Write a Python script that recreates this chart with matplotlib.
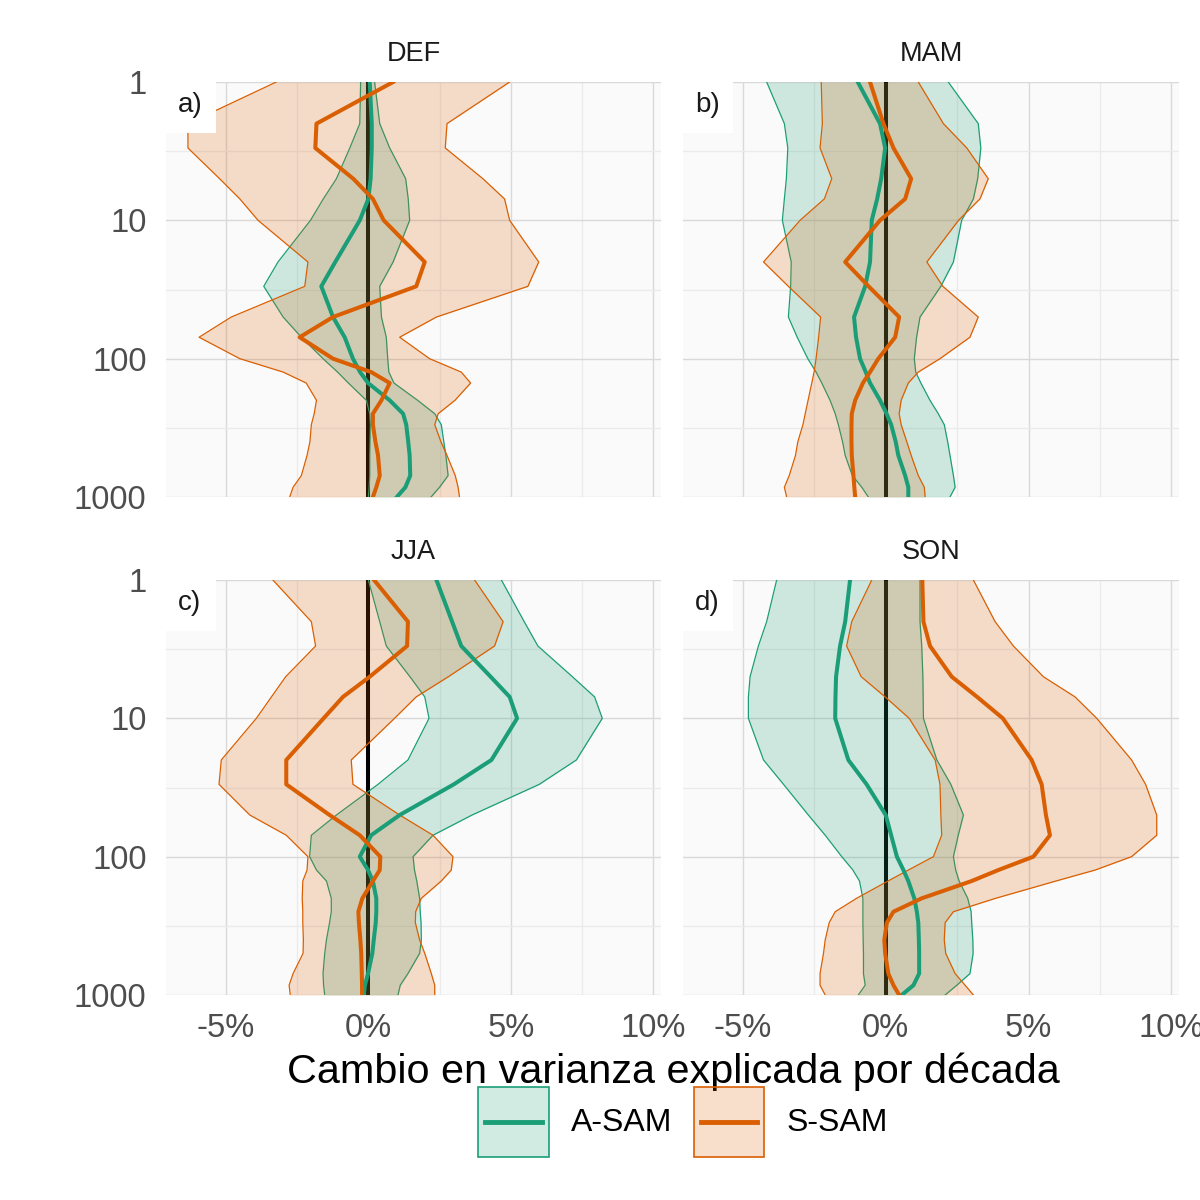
import matplotlib
matplotlib.use("Agg")
import matplotlib.pyplot as plt
from matplotlib.colors import to_rgba
from matplotlib.legend_handler import HandlerBase
from matplotlib.lines import Line2D
from matplotlib.patches import Patch, Rectangle
from matplotlib.ticker import NullFormatter

plt.rcParams["font.family"] = ["Liberation Sans", "DejaVu Sans"]

# pressure levels (hPa)
lev = [1, 2, 3, 5, 7, 10, 20, 30, 50, 70, 100, 125, 150, 200, 250, 300, 400, 500, 700, 850, 1000]

# change in explained variance per decade (%), mean and band limits
def_a_mean = [0.05, 0.12, 0.12, 0.08, 0.0, -0.30, -1.16, -1.65, -1.24, -0.83, -0.54, -0.29, -0.01, 0.75, 1.22, 1.33, 1.40, 1.45, 1.47, 1.30, 1.00]
def_a_lo = [-0.27, -0.30, -0.65, -1.12, -1.58, -2.03, -3.17, -3.67, -2.99, -2.35, -1.59, -1.08, -0.70, -0.07, 0.05, 0.07, 0.06, 0.05, 0.05, 0.03, 0.00]
def_a_hi = [0.22, 0.40, 0.75, 1.31, 1.40, 1.45, 0.87, 0.40, 0.46, 0.63, 0.68, 0.72, 0.90, 1.73, 2.33, 2.56, 2.65, 2.72, 2.80, 2.50, 2.20]
def_s_mean = [0.87, -1.82, -1.86, -0.53, 0.16, 0.54, 1.98, 1.68, -1.24, -2.41, -1.24, 0.10, 0.75, 0.46, 0.16, 0.16, 0.25, 0.34, 0.40, 0.28, 0.16]
def_s_lo = [-3.23, -6.33, -6.33, -5.22, -4.51, -3.87, -2.12, -2.23, -4.81, -5.94, -4.51, -2.99, -2.18, -1.82, -1.90, -2.00, -2.05, -2.15, -2.35, -2.64, -2.76]
def_s_hi = [4.96, 2.76, 2.70, 4.02, 4.78, 4.96, 5.98, 5.60, 2.39, 1.10, 2.15, 3.26, 3.59, 3.04, 2.45, 2.33, 2.55, 2.76, 3.05, 3.15, 3.20]

mam_a_mean = [-0.98, -0.20, -0.02, -0.16, -0.30, -0.49, -0.55, -0.72, -1.11, -1.04, -0.90, -0.70, -0.55, -0.20, 0.03, 0.19, 0.35, 0.44, 0.68, 0.79, 0.79]
mam_a_lo = [-4.17, -3.55, -3.43, -3.48, -3.55, -3.62, -3.31, -3.33, -3.41, -3.10, -2.73, -2.44, -2.24, -1.95, -1.77, -1.66, -1.51, -1.42, -1.17, -0.84, -0.61]
mam_a_hi = [2.19, 3.24, 3.33, 3.22, 3.07, 2.66, 2.37, 1.93, 1.20, 1.08, 1.00, 1.05, 1.23, 1.55, 1.84, 2.05, 2.17, 2.25, 2.37, 2.43, 2.25]
mam_s_mean = [-0.55, -0.08, 0.27, 0.89, 0.68, -0.20, -1.42, -0.60, 0.47, 0.33, -0.26, -0.55, -0.80, -1.07, -1.19, -1.20, -1.20, -1.19, -1.13, -1.10, -1.07]
mam_s_lo = [-2.26, -2.22, -2.30, -1.89, -2.15, -3.00, -4.28, -3.41, -2.28, -2.35, -2.44, -2.51, -2.59, -2.72, -2.82, -2.90, -3.08, -3.16, -3.38, -3.55, -3.47]
mam_s_hi = [1.14, 2.02, 2.84, 3.59, 3.30, 2.55, 1.44, 2.00, 3.24, 2.95, 1.90, 1.14, 0.79, 0.54, 0.47, 0.54, 0.74, 0.89, 1.14, 1.35, 1.38]

jja_a_mean = [2.39, 2.94, 3.26, 4.29, 4.96, 5.22, 4.32, 3.00, 1.10, 0.10, -0.30, -0.01, 0.16, 0.28, 0.28, 0.26, 0.19, 0.14, -0.01, -0.12, -0.16]
jja_a_lo = [0.00, 0.40, 0.63, 1.46, 1.98, 2.13, 1.39, 0.34, -1.12, -2.00, -2.06, -1.82, -1.47, -1.30, -1.30, -1.36, -1.47, -1.53, -1.59, -1.57, -1.53]
jja_a_hi = [4.67, 5.47, 5.95, 7.16, 7.94, 8.21, 7.30, 6.00, 3.64, 2.27, 1.57, 1.62, 1.70, 1.80, 1.82, 1.85, 1.86, 1.80, 1.39, 1.12, 1.04]
jja_s_mean = [0.20, 1.39, 1.36, 0.05, -0.89, -1.57, -2.88, -2.88, -1.36, -0.30, 0.42, 0.40, 0.16, -0.21, -0.35, -0.33, -0.28, -0.25, -0.23, -0.22, -0.22]
jja_s_lo = [-3.35, -2.00, -1.85, -2.90, -3.40, -3.93, -5.16, -5.24, -4.16, -2.88, -2.12, -2.15, -2.30, -2.32, -2.30, -2.30, -2.28, -2.29, -2.64, -2.78, -2.74]
jja_s_hi = [3.73, 4.73, 4.43, 2.81, 1.68, 0.92, -0.60, -0.54, 1.10, 2.27, 2.97, 2.91, 2.56, 1.86, 1.66, 1.65, 1.80, 1.98, 2.21, 2.33, 2.33]

son_a_mean = [-1.25, -1.42, -1.60, -1.74, -1.76, -1.77, -1.31, -0.67, 0.00, 0.19, 0.39, 0.62, 0.79, 1.00, 1.09, 1.14, 1.16, 1.17, 1.17, 0.97, 0.56]
son_a_lo = [-3.82, -4.17, -4.46, -4.75, -4.81, -4.81, -4.28, -3.58, -2.71, -2.12, -1.54, -1.15, -0.92, -0.80, -0.80, -0.80, -0.79, -0.78, -0.78, -0.72, -0.96]
son_a_hi = [1.20, 1.20, 1.26, 1.30, 1.31, 1.32, 1.79, 2.28, 2.72, 2.54, 2.37, 2.45, 2.57, 2.87, 2.99, 3.01, 3.05, 3.06, 2.95, 2.49, 2.08]
son_s_mean = [1.28, 1.32, 1.55, 2.31, 3.20, 4.10, 5.11, 5.46, 5.61, 5.75, 5.17, 3.94, 3.01, 1.26, 0.27, 0.04, -0.05, -0.02, 0.09, 0.27, 0.47]
son_s_lo = [-0.49, -1.19, -1.37, -0.86, -0.02, 0.82, 1.73, 1.90, 1.93, 1.96, 1.67, 0.79, 0.08, -1.02, -1.77, -1.98, -2.12, -2.18, -2.30, -2.30, -2.12]
son_s_hi = [3.07, 3.83, 4.47, 5.52, 6.63, 7.39, 8.61, 9.10, 9.49, 9.49, 8.61, 7.33, 5.96, 3.85, 2.37, 2.08, 2.05, 2.10, 2.43, 2.78, 3.07]

seasons = ["DEF", "MAM", "JJA", "SON"]
tags = ["a)", "b)", "c)", "d)"]
series = ["A-SAM", "S-SAM"]
x_ticks = [-5, 0, 5, 10]
x_ticklabels = ["-5%", "0%", "5%", "10%"]
y_ticks = [1, 10, 100, 1000]

GREEN = "#1b9e77"
ORANGE = "#d95f02"
colors = [GREEN, ORANGE]

data = {
    "DEF": [(def_a_mean, def_a_lo, def_a_hi), (def_s_mean, def_s_lo, def_s_hi)],
    "MAM": [(mam_a_mean, mam_a_lo, mam_a_hi), (mam_s_mean, mam_s_lo, mam_s_hi)],
    "JJA": [(jja_a_mean, jja_a_lo, jja_a_hi), (jja_s_mean, jja_s_lo, jja_s_hi)],
    "SON": [(son_a_mean, son_a_lo, son_a_hi), (son_s_mean, son_s_lo, son_s_hi)],
}


class BoxKey(HandlerBase):
    """ggplot-like legend key: filled box with the line across its middle."""

    def create_artists(self, legend, orig_handle, xdescent, ydescent,
                       width, height, fontsize, trans):
        ec = orig_handle.get_edgecolor()
        rect = Rectangle((-xdescent, -ydescent), width, height,
                         facecolor=orig_handle.get_facecolor(), edgecolor=ec,
                         lw=1.2, transform=trans)
        y = -ydescent + height / 2
        line = Line2D([-xdescent + 0.1 * width, -xdescent + 0.9 * width], [y, y],
                      color=ec, lw=3.5, transform=trans)
        return [rect, line]


W = H = 1200.0
fig = plt.figure(figsize=(12, 12), dpi=100)

# panel boxes in pixels: left, top, right, bottom
boxes = [(166, 82, 661, 497), (683, 82, 1179, 497),
         (166, 580, 661, 995), (683, 580, 1179, 995)]

for i, season in enumerate(seasons):
    l, t, r, b = boxes[i]
    ax = fig.add_axes([l / W, 1 - b / H, (r - l) / W, (b - t) / H])
    ax.set_facecolor("#fafafa")
    for s in ax.spines.values():
        s.set_visible(False)

    ax.set_yscale("log")
    ax.set_ylim(1000, 1)
    ax.set_xlim(-7.1, 10.27)
    ax.set_xticks(x_ticks)
    ax.set_xticks([-2.5, 2.5, 7.5], minor=True)
    ax.set_yticks(y_ticks)
    ax.set_yticks([10 ** 0.5, 10 ** 1.5, 10 ** 2.5], minor=True)
    ax.yaxis.set_minor_formatter(NullFormatter())
    ax.grid(which="major", color="#d9d9d9", lw=1.0)
    ax.grid(which="minor", color="#ebebeb", lw=1.0)
    ax.set_axisbelow(True)
    ax.tick_params(which="both", length=0, labelsize=23.5, labelcolor="#4d4d4d")
    ax.tick_params(axis="y", pad=14)
    ax.tick_params(axis="x", pad=13)

    if i % 2 == 0:
        ax.set_yticklabels([str(v) for v in y_ticks])
    else:
        ax.set_yticklabels([])
    if i >= 2:
        ax.set_xticklabels(x_ticklabels)
    else:
        ax.set_xticklabels([])

    ax.axvline(0, color="black", lw=2.9, zorder=1.5)

    for k, (mean, lo, hi) in enumerate(data[season]):
        c = colors[k]
        z = 2 + k * 0.2
        ax.fill_betweenx(lev, lo, hi, color=c, alpha=0.2, lw=0, zorder=z)
        ax.plot(lo, lev, color=c, lw=0.9, zorder=z + 0.1)
        ax.plot(hi, lev, color=c, lw=0.9, zorder=z + 0.1)
    for k, (mean, lo, hi) in enumerate(data[season]):
        ax.plot(mean, lev, color=colors[k], lw=2.9, zorder=3 + k * 0.1,
                solid_joinstyle="round")

    # panel tag in white box
    ax.add_patch(Rectangle((0, 1 - 51 / 415), 50 / 495, 51 / 415,
                           transform=ax.transAxes, facecolor="white",
                           edgecolor="none", zorder=4))
    ax.text(12 / 495, 1 - 23 / 415, tags[i], transform=ax.transAxes,
            fontsize=20, ha="left", va="center", color="#1a1a1a", zorder=5)

    # facet strip
    ax.text(0.5, 1 + 28 / 415, season, transform=ax.transAxes,
            fontsize=19.5, ha="center", va="center", color="#1a1a1a")

fig.text(673 / W, 1 - 1072 / H, "Cambio en varianza explicada por década",
         ha="center", va="center", fontsize=29.8, color="black")

handles = [Patch(facecolor=to_rgba(c, 0.2), edgecolor=c) for c in colors]
fig.legend(handles, series, loc="center", bbox_to_anchor=(683 / W, 1 - 1122 / H),
           ncol=2, frameon=False, fontsize=23, handlelength=2.2, handleheight=3.0,
           handletextpad=0.69, columnspacing=0.69,
           handler_map={Patch: BoxKey()})

fig.savefig("out.png", dpi=100)
